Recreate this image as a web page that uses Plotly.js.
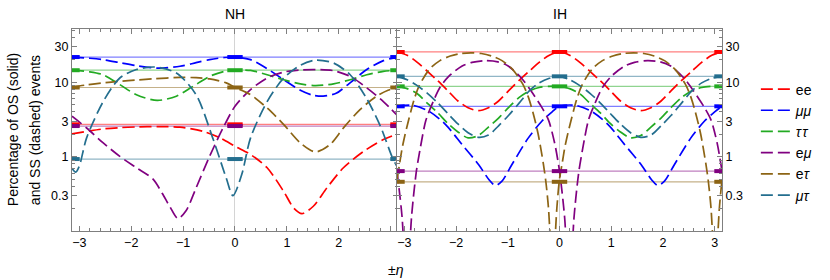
<!DOCTYPE html>
<html><head><meta charset="utf-8">
<script src="https://cdn.plot.ly/plotly-3.0.1.min.js"></script>
<style>body{margin:0;background:#fff}#chart{width:830px;height:280px}</style>
</head><body><div id="chart"></div>
<script>
// ---------- data ----------
const channels = ['ee', 'μμ', 'ττ', 'eμ', 'eτ', 'μτ'];
const legendLabels = ['ee', '<i>μμ</i>', '<i>τ\u200Aτ</i>', 'e<i>μ</i>', 'e<i>τ</i>', '<i>μτ</i>'];
const colors = ['#ff0000', '#0000ff', '#22aa22', '#800080', '#8c6414', '#236e8e'];

// OS (solid, eta independent) percentages
const nhOS = [2.72, 21.8, 14.5, 2.58, 8.5, 0.93];
const ihOS = [25.5, 4.75, 8.8, 0.64, 0.46, 12.0];
const etaEdges = [-3.1416, 3.1416];
const etaMarks = [-3.1416, 0, 3.1416];

// NH, SS (dashed)
const nhEeX = [-3.142,-2.8,-2.54,-2.2,-1.9,-1.5,-1.06,-0.62,-0.29,0,0.3,0.62,0.94,1.13,1.29,1.51,1.77,2.09,2.48,2.86,3.142];
const nhEeY = [2.02,2.22,2.36,2.46,2.51,2.54,2.49,2.19,1.79,1.38,1.07,0.71,0.34,0.205,0.172,0.216,0.38,0.71,1.18,1.70,2.02];
const nhMmX = [-3.142,-2.8,-2.54,-2.2,-1.9,-1.5,-1.06,-0.75,-0.49,-0.2,0,0.3,0.62,0.94,1.26,1.5,1.7,1.95,2.2,2.54,2.86,3.142];
const nhMmY = [21.8,21.0,20.1,18.2,16.7,15.5,16.4,18.3,20.1,21.5,21.8,20.1,15.2,10.8,7.8,6.7,6.5,7.1,9.6,14.8,19.5,21.8];
const nhTtX = [-3.142,-2.8,-2.54,-2.22,-1.9,-1.5,-1.13,-0.81,-0.49,-0.2,0,0.3,0.62,0.94,1.26,1.55,1.9,2.22,2.54,2.86,3.142];
const nhTtY = [14.5,13.8,12.6,9.3,6.8,5.7,6.5,8.8,12.0,14.0,14.5,14.4,12.6,10.8,9.5,9.0,9.5,10.8,12.6,14.0,14.5];
const nhEmX = [-3.142,-2.86,-2.54,-2.22,-1.9,-1.58,-1.4,-1.25,-1.1,-0.94,-0.75,-0.49,-0.23,0,0.3,0.62,0.94,1.26,1.55,1.9,2.22,2.54,2.86,3.142];
const nhEmY = [3.49,2.43,1.53,1.01,0.71,0.50,0.32,0.21,0.148,0.19,0.38,1.01,2.43,4.75,7.96,11.4,13.7,14.6,14.8,14.3,12.0,8.4,5.5,3.49];
const nhEtX = [-3.142,-2.86,-2.54,-2.22,-1.9,-1.58,-1.06,-0.75,-0.49,-0.17,0,0.3,0.62,0.94,1.26,1.55,1.83,2.09,2.41,2.73,2.95,3.142];
const nhEtY = [8.55,9.2,9.8,10.3,10.7,11.1,11.6,11.5,11.1,9.8,8.55,6.8,4.5,2.7,1.53,1.16,1.45,2.43,4.3,6.5,7.8,8.55];
const nhMtX = [-3.142,-3.07,-3.0,-2.86,-2.54,-2.22,-1.9,-1.54,-1.13,-0.75,-0.43,-0.17,-0.04,0.13,0.3,0.62,0.94,1.26,1.55,1.9,2.22,2.54,2.8,3.04,3.142];
const nhMtY = [0.70,0.62,0.75,1.79,5.5,11.4,14.8,16.0,13.3,6.8,1.79,0.52,0.30,0.575,1.79,5.5,11.4,16.9,19.8,18.1,12.6,6.0,2.6,0.95,0.70];

// IH, SS (dashed)
const ihGridX = [-3.142,-2.945,-2.749,-2.553,-2.356,-2.160,-1.963,-1.767,-1.571,-1.374,-1.178,-0.982,-0.785,-0.589,-0.393,-0.196,0,0.196,0.393,0.589,0.785,0.982,1.178,1.374,1.571,1.767,1.963,2.160,2.356,2.553,2.749,2.945,3.142];
const ihEeY = [25.5,23.0,18.5,14.0,10.5,7.7,5.6,4.55,4.15,4.55,5.6,7.7,10.5,14.0,18.5,23.0,25.5,23.0,18.5,14.0,10.5,7.7,5.6,4.55,4.15,4.55,5.6,7.7,10.5,14.0,18.5,23.0,25.5];
const ihTtY = [8.8,8.2,7.0,5.2,3.9,2.8,2.15,1.79,1.92,2.5,3.3,4.6,6.2,7.6,8.5,8.8,8.8,8.2,7.0,5.2,3.9,2.8,2.15,1.79,1.92,2.5,3.3,4.6,6.2,7.6,8.5,8.8,8.8];
const ihMtY = [12.0,10.8,9.0,7.1,5.3,3.8,2.75,2.1,1.82,1.95,2.6,3.6,5.2,7.6,9.8,11.3,12.0,10.8,9.0,7.1,5.3,3.8,2.75,2.1,1.82,1.95,2.6,3.6,5.2,7.6,9.8,11.3,12.0];
const ihMmX = [-3.142,-2.842,-2.522,-2.202,-1.882,-1.562,-1.362,-1.242,-1.112,-0.922,-0.602,-0.342,-0.142,0,0.3,0.62,0.94,1.26,1.58,1.78,1.9,2.03,2.22,2.54,2.8,3.0,3.142];
const ihMmY = [4.75,4.9,4.07,2.7,1.45,0.78,0.49,0.41,0.47,0.78,1.79,2.99,4.0,4.75,4.9,4.07,2.7,1.45,0.78,0.49,0.41,0.47,0.78,1.79,2.99,4.0,4.75];
const ihEmX = [-3.142,-3.042,-2.992,-2.952,-2.912,-2.862,-2.772,-2.692,-2.582,-2.442,-2.312,-2.142,-1.882,-1.692,-1.442,-1.192,-0.992,-0.742,-0.542,-0.342,-0.212,-0.092,0,0.1,0.15,0.19,0.23,0.28,0.37,0.45,0.56,0.7,0.83,1.0,1.26,1.45,1.7,1.95,2.15,2.4,2.6,2.8,2.93,3.05,3.142];
const ihEmY = [0.64,0.15,0.03,0.005,0.03,0.15,0.6,1.3,3.1,5.5,8.5,12.0,16.5,18.5,19.5,18.8,16.5,11.5,7.5,4.6,3.1,1.5,0.64,0.15,0.03,0.005,0.03,0.15,0.6,1.3,3.1,5.5,8.5,12.0,16.5,18.5,19.5,18.8,16.5,11.5,7.5,4.6,3.1,1.5,0.64];
const ihEtX = [-3.142,-3.092,-3.042,-2.992,-2.912,-2.812,-2.712,-2.512,-2.312,-2.112,-1.912,-1.712,-1.512,-1.312,-1.112,-0.912,-0.712,-0.612,-0.512,-0.412,-0.312,-0.262,-0.212,-0.172,-0.132,-0.092,-0.052,0,0.05,0.1,0.15,0.23,0.33,0.43,0.63,0.83,1.03,1.23,1.43,1.63,1.83,2.03,2.23,2.43,2.53,2.63,2.73,2.83,2.88,2.93,2.97,3.01,3.05,3.09,3.142];
const ihEtY = [0.5,0.8,1.3,1.9,3.2,5.8,9.0,15.0,19.5,22.5,24.3,24.8,24.3,22.5,19.5,15.0,9.5,6.6,3.9,2.0,0.8,0.45,0.2,0.06,0.01,0.06,0.2,0.5,0.8,1.3,1.9,3.2,5.8,9.0,15.0,19.5,22.5,24.3,24.8,24.3,22.5,19.5,15.0,9.5,6.6,3.9,2.0,0.8,0.45,0.2,0.06,0.01,0.06,0.2,0.5];

const nhSS = [[nhEeX,nhEeY],[nhMmX,nhMmY],[nhTtX,nhTtY],[nhEmX,nhEmY],[nhEtX,nhEtY],[nhMtX,nhMtY]];
const ihSS = [[ihGridX,ihEeY],[ihMmX,ihMmY],[ihGridX,ihTtY],[ihEmX,ihEmY],[ihEtX,ihEtY],[ihGridX,ihMtY]];

// x tick labels
const xTickVals = [-3,-2,-1,0,1,2,3];
const nhTickText = ['−3','−2','−1','0','1','2',''];
const ihTickText = ['−3','−2','−1','0','1','2','3'];
const yTickVals = [0.3,1,3,10,30];
const yTickText = ['0.3','1','3','10','30'];
const yMinorVals = [0.1,0.2,0.4,0.5,0.6,0.7,0.8,0.9,2,4,5,6,7,8,9,20,40,50];

// ---------- build ----------
function hexA(hex, a){
  const r=parseInt(hex.slice(1,3),16), g=parseInt(hex.slice(3,5),16), b=parseInt(hex.slice(5,7),16);
  return `rgba(${r},${g},${b},${a})`;
}
const traces = [];
function addPanel(os, ss, xa, ya, legend){
  channels.forEach((c,i)=>{
    traces.push({x: etaEdges, y: [os[i], os[i]], xaxis: xa, yaxis: ya, mode: 'lines',
      line: {color: hexA(colors[i], 0.5), width: 1.2}, showlegend: false, hoverinfo: 'skip'});
  });
  channels.forEach((c,i)=>{
    traces.push({x: ss[i][0], y: ss[i][1], xaxis: xa, yaxis: ya, mode: 'lines',
      name: legendLabels[i], showlegend: legend,
      line: {color: colors[i], width: 1.7, dash: '12px,5px', shape: 'spline', smoothing: 0.8}});
  });
  channels.forEach((c,i)=>{
    traces.push({x: etaMarks, y: etaMarks.map(()=>os[i]), xaxis: xa, yaxis: ya, mode: 'markers',
      marker: {symbol: 'line-ew', size: 11, color: colors[i], line: {color: colors[i], width: 4}},
      showlegend: false, hoverinfo: 'skip'});
  });
}
addPanel(nhOS, nhSS, 'x', 'y', true);
addPanel(ihOS, ihSS, 'x2', 'y2', false);

const FONT = '"Liberation Sans", Arial, sans-serif';
const frame = {showline: true, linecolor: '#7f7f7f', linewidth: 1, mirror: 'ticks',
  ticks: 'inside', ticklen: 5, tickcolor: '#7f7f7f', tickwidth: 1, showgrid: false,
  tickfont: {family: FONT, size: 12.5, color: '#000'}};
const xCommon = Object.assign({}, frame, {range: [-Math.PI, Math.PI], tickmode: 'array', tickvals: xTickVals,
  zeroline: true, zerolinecolor: '#d4d4d4', zerolinewidth: 1,
  minor: {dtick: 0.2, tick0: 0, ticks: 'inside', ticklen: 3, tickcolor: '#7f7f7f', tickwidth: 1}});
const yCommon = Object.assign({}, frame, {type: 'log', range: [-0.998, 1.715], tickmode: 'array',
  tickvals: yTickVals, ticktext: yTickText, zeroline: false,
  minor: {tickmode: 'array', tickvals: yMinorVals, ticks: 'inside', ticklen: 3, tickcolor: '#7f7f7f', tickwidth: 1}});

const layout = {
  width: 830, height: 280, paper_bgcolor: '#fff', plot_bgcolor: '#fff',
  margin: {l: 72, r: 106, t: 29, b: 49},
  font: {family: FONT, size: 13, color: '#000'},
  xaxis: Object.assign({}, xCommon, {domain: [0, 0.5015], anchor: 'y', ticktext: nhTickText}),
  xaxis2: Object.assign({}, xCommon, {domain: [0.5, 1], anchor: 'y2', ticktext: ihTickText}),
  yaxis: Object.assign({}, yCommon, {domain: [0, 1], anchor: 'x', side: 'left'}),
  yaxis2: Object.assign({}, yCommon, {domain: [0, 1], anchor: 'x2', side: 'right'}),
  showlegend: true,
  legend: {x: 1.0521, xanchor: 'left', y: 0.78, yanchor: 'top', bgcolor: 'rgba(0,0,0,0)',
    font: {family: FONT, size: 14, color: '#000'}, tracegroupgap: 0, itemwidth: 30},
  annotations: [
    {text: 'NH', xref: 'paper', yref: 'paper', x: 0.2507, y: 1.074, showarrow: false, font: {size: 14}, xanchor: 'center', yanchor: 'middle'},
    {text: 'IH', xref: 'paper', yref: 'paper', x: 0.75, y: 1.074, showarrow: false, font: {size: 14}, xanchor: 'center', yanchor: 'middle'},
    {text: '±<i>η</i>', xref: 'paper', yref: 'paper', x: 0.4985, y: -0.193, showarrow: false, font: {size: 14}, xanchor: 'center', yanchor: 'middle'},
    {text: 'Percentage of OS (solid)', xref: 'paper', yref: 'paper', x: -0.0905, y: 0.5, textangle: -90, showarrow: false, font: {size: 14}, xanchor: 'center', yanchor: 'middle'},
    {text: 'and SS (dashed) events', xref: 'paper', yref: 'paper', x: -0.0567, y: 0.5, textangle: -90, showarrow: false, font: {size: 14}, xanchor: 'center', yanchor: 'middle'}
  ]
};
Plotly.newPlot('chart', traces, layout, {staticPlot: true, displayModeBar: false});
</script>
</body></html>
